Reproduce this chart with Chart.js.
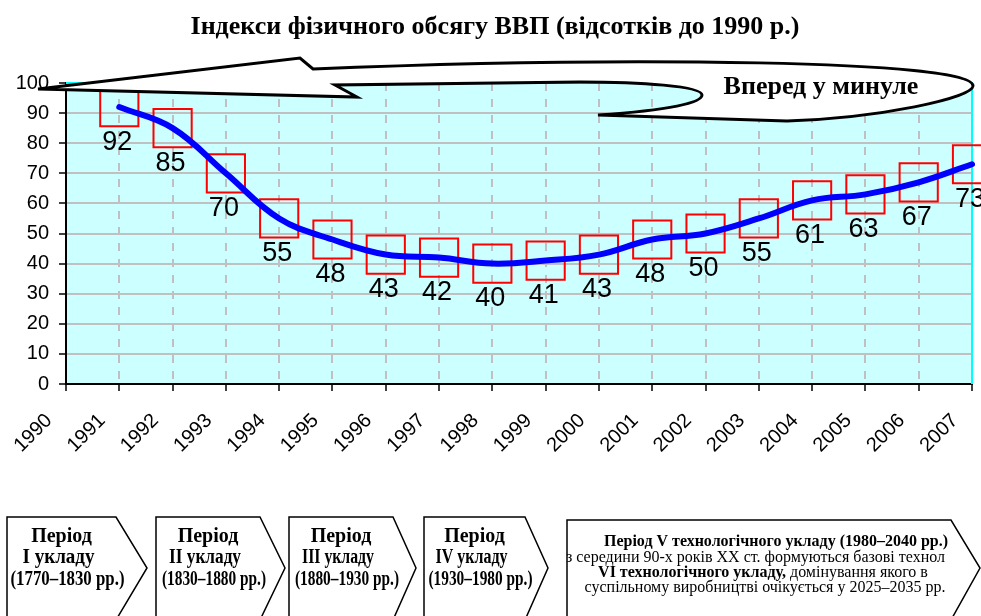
<!DOCTYPE html>
<html lang="uk">
<head>
    <meta charset="UTF-8">
    <title>Індекси фізичного обсягу ВВП</title>
    <script src="https://cdn.jsdelivr.net/npm/chart.js"></script>
    <style>
        html, body { margin: 0; padding: 0; background: #fff; }
        #wrap { width: 981px; height: 616px; }
    </style>
</head>
<body>
    <div id="wrap"><canvas id="gdpChart" width="981" height="616"></canvas></div>

    <script>
        // chart data
        const years = ['1990', '1991', '1992', '1993', '1994', '1995', '1996', '1997', '1998',
                       '1999', '2000', '2001', '2002', '2003', '2004', '2005', '2006', '2007'];
        const gdpIndex = [null, 92, 85, 70, 55, 48, 43, 42, 40, 41, 43, 48, 50, 55, 61, 63, 67, 73];
        const yMin = 0, yMax = 100, yStep = 10;

        const titleText = 'Індекси фізичного обсягу ВВП (відсотків до 1990 р.)';
        const arrowText = 'Вперед у минуле';
        const periods = [
            ['Період', 'I укладу', '(1770–1830 рр.)'],
            ['Період', 'II укладу', '(1830–1880 рр.)'],
            ['Період', 'III укладу', '(1880–1930 рр.)'],
            ['Період', 'IV укладу', '(1930–1980 рр.)']
        ];
        const period5 = [
            'Період V технологічного укладу (1980–2040 рр.)',
            'з середини 90-х років ХХ ст. формуються базові технол',
            ['VI технологічного укладу,', ' домінування якого в'],
            'суспільному виробництві очікується у 2025–2035 рр.'
        ];

        const SANS = '"Liberation Sans", Arial, sans-serif';
        const SERIF = '"Liberation Serif", "Times New Roman", serif';

        // white page + cyan plot area
        const backgroundPlugin = {
            id: 'background',
            beforeDraw(chart) {
                const { ctx, chartArea: a } = chart;
                ctx.save();
                ctx.fillStyle = '#fff';
                ctx.fillRect(0, 0, chart.width, chart.height);
                ctx.fillStyle = '#ccffff';
                ctx.fillRect(a.left, a.top, a.right - a.left, a.bottom - a.top);
                ctx.restore();
            },
            beforeDatasetsDraw(chart) {
                const { ctx, chartArea: a } = chart;
                ctx.save();
                ctx.strokeStyle = '#00ffff';
                ctx.lineWidth = 2;
                ctx.beginPath();
                ctx.moveTo(a.left, a.top);
                ctx.lineTo(a.right, a.top);
                ctx.lineTo(a.right, a.bottom);
                ctx.stroke();
                ctx.restore();
            }
        };

        // value labels under the markers
        const valueLabels = {
            id: 'valueLabels',
            afterDatasetsDraw(chart) {
                const { ctx } = chart;
                const meta = chart.getDatasetMeta(0);
                ctx.save();
                ctx.font = '27px ' + SANS;
                ctx.fillStyle = '#000';
                ctx.textAlign = 'center';
                ctx.textBaseline = 'middle';
                meta.data.forEach((pt, i) => {
                    if (gdpIndex[i] === null) return;
                    ctx.fillText(String(gdpIndex[i]), pt.x - 2, pt.y + 35);
                });
                ctx.restore();
            }
        };

        function pentagon(ctx, left, top, corner, tip, tipY, bottom) {
            ctx.beginPath();
            ctx.moveTo(left, bottom);
            ctx.lineTo(left, top);
            ctx.lineTo(corner, top);
            ctx.lineTo(tip, tipY);
            ctx.lineTo(corner, bottom);
            ctx.closePath();
            ctx.fillStyle = '#fff';
            ctx.fill();
            ctx.stroke();
        }

        // title, the "Вперед у минуле" arrow and the period boxes
        const decorations = {
            id: 'decorations',
            afterDraw(chart) {
                const { ctx } = chart;
                ctx.save();

                // title
                ctx.fillStyle = '#000';
                ctx.font = 'bold 26px ' + SERIF;
                ctx.textAlign = 'center';
                ctx.textBaseline = 'middle';
                ctx.fillText(titleText, 495, 27);

                // curved arrow
                ctx.beginPath();
                ctx.moveTo(38, 89);
                ctx.lineTo(300, 58);
                ctx.lineTo(313, 69);
                ctx.bezierCurveTo(620, 56, 975, 60, 973, 86);
                ctx.bezierCurveTo(972, 98, 880, 118, 787, 121);
                ctx.lineTo(598, 115);
                ctx.bezierCurveTo(670, 110, 702, 103, 702, 95);
                ctx.bezierCurveTo(702, 86, 640, 82, 580, 82);
                ctx.lineTo(335, 85);
                ctx.lineTo(357, 97);
                ctx.closePath();
                ctx.fillStyle = '#fff';
                ctx.fill();
                ctx.lineWidth = 3;
                ctx.lineJoin = 'miter';
                ctx.strokeStyle = '#000';
                ctx.stroke();

                ctx.fillStyle = '#000';
                ctx.font = 'bold 26px ' + SERIF;
                ctx.fillText(arrowText, 821, 87);

                // period boxes
                ctx.lineWidth = 1.5;
                const boxes = [[7, 116, 147], [156, 260, 285], [289, 393, 416], [424, 525, 548]];
                boxes.forEach((b, i) => {
                    pentagon(ctx, b[0], 517, b[1], b[2], 568, 620);
                    const cx = (b[0] + b[1]) / 2;
                    ctx.fillStyle = '#000';
                    ctx.font = 'bold 20px ' + SERIF;
                    ctx.fillText(periods[i][0], cx, 537);
                    ctx.fillText(periods[i][1], cx - 3, 558, 72);
                    ctx.fillText(periods[i][2], cx + 6, 580, i === 0 ? 114 : 104);
                });

                pentagon(ctx, 567, 520, 951, 980, 568, 620);
                ctx.save();
                ctx.beginPath();
                ctx.rect(567, 520, 382, 100);
                ctx.clip();
                ctx.fillStyle = '#000';
                ctx.font = 'bold 16px ' + SERIF;
                ctx.fillText(period5[0], 776, 542, 344);
                ctx.font = '16px ' + SERIF;
                ctx.textAlign = 'left';
                ctx.fillText(period5[1], 566, 558);
                // mixed bold / regular line
                ctx.font = 'bold 16px ' + SERIF;
                const w1 = ctx.measureText(period5[2][0]).width;
                ctx.font = '16px ' + SERIF;
                const w2 = ctx.measureText(period5[2][1]).width;
                const x0 = 763 - (w1 + w2) / 2;
                ctx.font = 'bold 16px ' + SERIF;
                ctx.fillText(period5[2][0], x0, 573);
                ctx.font = '16px ' + SERIF;
                ctx.fillText(period5[2][1], x0 + w1, 573);
                ctx.textAlign = 'center';
                ctx.fillText(period5[3], 765, 588, 372);
                ctx.restore();

                ctx.restore();
            }
        };

        const ctx = document.getElementById('gdpChart').getContext('2d');
        const gdpChart = new Chart(ctx, {
            type: 'line',
            data: {
                labels: years,
                datasets: [
                    {
                        label: 'ВВП',
                        data: gdpIndex,
                        borderColor: '#0000ff',
                        borderWidth: 6,
                        borderCapStyle: 'round',
                        tension: 0.4,
                        pointRadius: 0,
                        fill: false,
                        order: 0
                    },
                    {
                        label: 'markers',
                        data: gdpIndex,
                        showLine: false,
                        pointStyle: 'rect',
                        pointRadius: 27,
                        pointBorderColor: '#ff0000',
                        pointBorderWidth: 2,
                        pointBackgroundColor: 'rgba(0,0,0,0)',
                        clip: false,
                        order: 1
                    }
                ]
            },
            options: {
                responsive: false,
                animation: false,
                devicePixelRatio: 1,
                layout: { autoPadding: false, padding: { top: 83, right: 9, left: 0, bottom: 0 } },
                plugins: {
                    legend: { display: false },
                    title: { display: false },
                    tooltip: { enabled: false }
                },
                scales: {
                    x: {
                        type: 'category',
                        offset: false,
                        grid: {
                            offset: false,
                            color: '#c0c0c0',
                            lineWidth: 2,
                            tickColor: '#000',
                            tickLength: 7,
                            tickWidth: 1.5
                        },
                        border: { color: '#000', width: 2, dash: [8, 8] },
                        ticks: {
                            color: '#000',
                            font: { size: 20, family: SANS },
                            minRotation: 45,
                            maxRotation: 45,
                            autoSkip: false,
                            labelOffset: -17,
                            padding: 18
                        },
                        afterFit(scale) {
                            scale.height = 232;
                            scale.paddingLeft = 0;
                            scale.paddingRight = 0;
                        }
                    },
                    y: {
                        min: yMin,
                        max: yMax,
                        grid: {
                            color: '#c0c0c0',
                            lineWidth: 2,
                            tickColor: '#000',
                            tickLength: 7,
                            tickWidth: 1.5
                        },
                        border: { color: '#000', width: 2 },
                        ticks: {
                            stepSize: yStep,
                            color: '#000',
                            font: { size: 20, family: SANS },
                            padding: 10
                        },
                        afterFit(scale) {
                            scale.width = 66;
                        }
                    }
                }
            },
            plugins: [backgroundPlugin, valueLabels, decorations]
        });
    </script>
</body>
</html>
